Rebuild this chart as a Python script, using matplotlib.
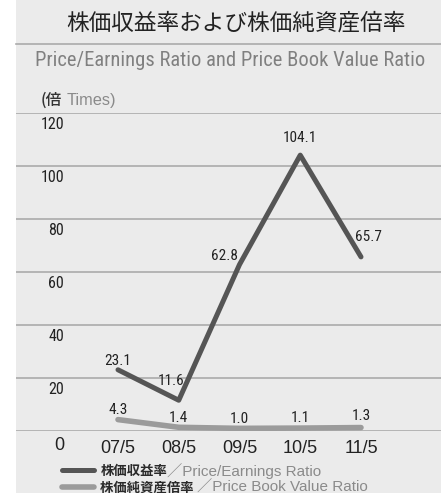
import matplotlib.pyplot as plt
from matplotlib.patches import Rectangle
from matplotlib.lines import Line2D

plt.rcParams['font.family'] = ['Liberation Sans', 'Noto Sans CJK JP', 'DejaVu Sans']

periods = ["07/5", "08/5", "09/5", "10/5", "11/5"]
per = [23.1, 11.6, 62.8, 104.1, 65.7]
pbr = [4.3, 1.4, 1.0, 1.1, 1.3]
yticks = [0, 20, 40, 60, 80, 100, 120]

per_off = [(0, 9), (-8, 19), (-15, 9), (0, 17), (7, 20)]
pbr_off = [(0, 10), (0, 9), (0, 9), (0, 10), (0, 12)]

W, H = 441, 493
dark = "#555555"
light = "#9b9b9b"
grid = "#ababab"
bg = "#ebebeb"
narrow = ['Roboto Condensed', 'Liberation Sans', 'Noto Sans CJK JP', 'DejaVu Sans']
jp = ['Noto Sans CJK JP', 'DejaVu Sans']
eng = ['Liberation Sans', 'Noto Sans CJK JP', 'DejaVu Sans']

fig = plt.figure(figsize=(W / 100, H / 100), dpi=100)
fig.patches.append(Rectangle((16 / W, 0), 1, 1, transform=fig.transFigure,
                             facecolor=bg, edgecolor="none", zorder=-10))

# title block
fig.text(236 / W, 1 - 23 / H, "株価収益率および株価純資産倍率", family=jp,
         fontsize=16.3, color="#222222", ha="center", va="center")
fig.add_artist(Line2D([16 / W, 1], [1 - 44 / H] * 2, color=grid, lw=1.2,
                      transform=fig.transFigure))
fig.text(230 / W, 1 - 61 / H, "Price/Earnings Ratio and Price Book Value Ratio",
         family=narrow, fontsize=14.8, color="#808080", ha="center", va="center")
t1 = fig.text(41 / W, 1 - 100 / H, "(倍", family=jp, fontsize=11.3, fontweight="medium",
              color="#333333", ha="left", va="center")

ax = fig.add_axes([16 / W, 1 - 431 / H, 1 - 16 / W, (431 - 113) / H])
ax.set_facecolor("none")
ax.set_xlim((16 - 118) / 60.75, (441 - 118) / 60.75)
ax.set_ylim(0, 120)
for s in ax.spines.values():
    s.set_visible(False)
ax.set_yticks([])
ax.set_xticks(range(len(periods)), periods, fontsize=13, color="#222222")
ax.tick_params(axis="x", length=0, pad=6.5)

for v in yticks:
    ax.axhline(v, color=grid, lw=1.2, zorder=1)
    if v == 0:
        ax.annotate("0", (-0.889, v), xytext=(0, -15 * 0.72), textcoords="offset points",
                    ha="right", va="center", fontsize=13, color="#222222")
    else:
        ax.annotate(str(v), (-0.889, v), xytext=(0, -11 * 0.72), textcoords="offset points",
                    ha="right", va="center", fontsize=11.5, family=narrow, color="#222222")

x = list(range(len(periods)))
l1, = ax.plot(x, per, color=dark, lw=3.6, solid_capstyle="round", zorder=3)
l2, = ax.plot(x, pbr, color=light, lw=4, solid_capstyle="round", zorder=2)

for i, v in enumerate(per):
    dx, dy = per_off[i]
    ax.annotate(f"{v:.1f}", (i, v), xytext=(dx * 0.72, dy * 0.72), textcoords="offset points",
                ha="center", va="center", fontsize=11, family=narrow, color="#222222")
for i, v in enumerate(pbr):
    dx, dy = pbr_off[i]
    ax.annotate(f"{v:.1f}", (i, v), xytext=(dx * 0.72, dy * 0.72), textcoords="offset points",
                ha="center", va="center", fontsize=11, family=narrow, color="#222222")

leg = fig.legend([l1, l2], ["株価収益率", "株価純資産倍率 "], loc="upper left",
                 bbox_to_anchor=(55 / W, 1 - 457 / H), frameon=False,
                 handlelength=2.4, handletextpad=0.5, labelspacing=0.2,
                 borderpad=0, prop={"family": jp, "size": 9.6, "weight": "bold"})
for t in leg.get_texts():
    t.set_color("#2a2a2a")

fig.canvas.draw()
r = fig.canvas.get_renderer()
bb = t1.get_window_extent(r)
fig.text(bb.x1 / W + 4 / W, 1 - 100 / H, "Times)", fontsize=11.8, color="#8a8a8a",
         ha="left", va="center")

english = ["／Price/Earnings Ratio", "／Price Book Value Ratio"]
for t, e in zip(leg.get_texts(), english):
    b = t.get_window_extent(r)
    fig.text(b.x1 / W, (b.y0 + b.y1) / 2 / H, e, family=eng,
             fontsize=11, color="#8a8a8a", ha="left", va="center")

fig.savefig("out.png", dpi=100)
